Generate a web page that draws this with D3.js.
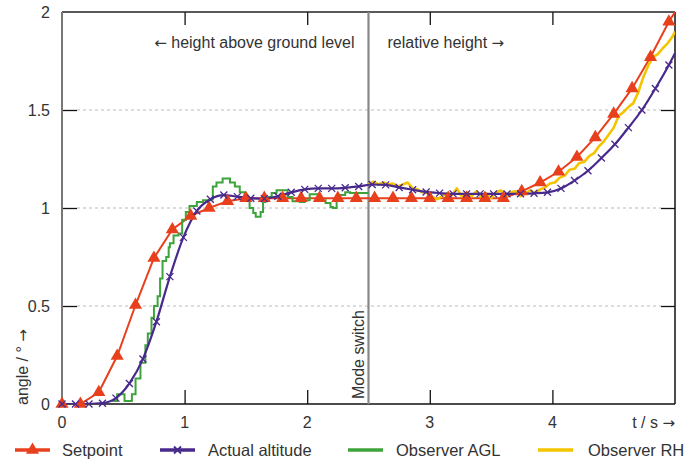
<!DOCTYPE html>
<html>
<head>
<meta charset="utf-8">
<script src="https://cdn.jsdelivr.net/npm/d3@7"></script>
<style>
  body{margin:0;background:#fff;}
  text{font-family:"Liberation Sans",Arial,sans-serif;fill:#333;}
  tspan.arr{font-family:"DejaVu Sans",sans-serif;font-size:15px;}
</style>
</head>
<body>
<script>
// setpoint, one triangle every 0.15 s
let spT = d3.range(0, 34).map(i => +(i*0.15).toFixed(2)).concat([5.0]);
let spV = [0, 0, 0.06, 0.245, 0.505, 0.745, 0.89, 0.96, 1.0, 1.035, 1.05,
  1.05, 1.05, 1.05, 1.05, 1.05, 1.05, 1.05, 1.05, 1.05, 1.05, 1.05, 1.05, 1.05, 1.05,
  1.085, 1.13, 1.185, 1.26, 1.36, 1.48, 1.61, 1.77, 1.95, 2.0];

// actual altitude, one cross every 0.11 s
let aaT = d3.range(0, 46).map(i => +(i*0.11).toFixed(2)).concat([5.0]);
let aaV = [0, 0, 0, 0.004, 0.03, 0.105, 0.23, 0.42, 0.65, 0.85, 0.985, 1.045, 1.066,
  1.058, 1.05, 1.048, 1.06, 1.08, 1.095, 1.1, 1.1, 1.103, 1.11, 1.12, 1.118, 1.105,
  1.093, 1.082, 1.076, 1.072, 1.072, 1.072, 1.072, 1.072, 1.073, 1.075, 1.08, 1.1,
  1.14, 1.19, 1.255, 1.325, 1.41, 1.5, 1.61, 1.73, 1.79];

// observer AGL (step samples)
let aglT = [0.42, 0.45, 0.51, 0.57, 0.60, 0.64, 0.68, 0.70, 0.73, 0.75, 0.78, 0.80, 0.82,
  0.85, 0.87, 0.88, 0.91, 0.95, 0.98, 1.01, 1.04, 1.10, 1.15, 1.21, 1.23, 1.26, 1.31,
  1.37, 1.41, 1.45, 1.49, 1.53, 1.56, 1.58, 1.62, 1.64, 1.66, 1.71, 1.75, 1.80, 1.84,
  1.88, 1.94, 1.98, 2.02, 2.06, 2.10, 2.15, 2.19, 2.21, 2.24, 2.27, 2.31, 2.35, 2.43, 2.5];
let aglV = [0.015, 0.05, 0.015, 0.05, 0.13, 0.21, 0.30, 0.36, 0.44, 0.50, 0.55, 0.64, 0.73,
  0.75, 0.80, 0.82, 0.86, 0.87, 0.94, 0.98, 1.01, 1.03, 1.04, 1.045, 1.11, 1.13, 1.15,
  1.13, 1.11, 1.08, 1.05, 1.0, 0.975, 0.955, 0.98, 1.03, 1.056, 1.076, 1.09, 1.09, 1.056,
  1.035, 1.03, 1.04, 1.07, 1.07, 1.04, 1.025, 1.005, 1.0, 1.04, 1.066, 1.08, 1.077, 1.077, 1.077];

// observer RH, every 0.04 s after the mode switch
let rhT = d3.range(0, 63).map(i => +(2.5 + i*0.04).toFixed(2)).concat([5.0]);
let rhV = [1.12, 1.135, 1.12, 1.13, 1.12, 1.125, 1.11, 1.12, 1.13, 1.10, 1.095, 1.08,
  1.075, 1.055, 1.045, 1.06, 1.075, 1.065, 1.1, 1.06, 1.08, 1.06, 1.085, 1.055, 1.075,
  1.05, 1.08, 1.09, 1.055, 1.08, 1.085, 1.06, 1.075, 1.09, 1.075, 1.095, 1.105, 1.125,
  1.13, 1.155, 1.165, 1.195, 1.2, 1.23, 1.235, 1.265, 1.28, 1.315, 1.34, 1.375, 1.41, 1.47,
  1.49, 1.515, 1.535, 1.59, 1.665, 1.725, 1.77, 1.785, 1.815, 1.84, 1.875, 1.9];

let xTicks = [0, 1, 2, 3, 4];
let yTicks = [0, 0.5, 1, 1.5, 2];
let modeSwitchT = 2.5;

let colors = {sp:"#e8401c", aa:"#48298c", agl:"#3ca43a", rh:"#f5c400"};

let W = 699, H = 464;
let plot = {left:62, right:675, top:12, bottom:404};

let x = d3.scaleLinear().domain([0, 5]).range([plot.left, plot.right]);
let y = d3.scaleLinear().domain([0, 2]).range([plot.bottom, plot.top]);

let svg = d3.select("body").append("svg").attr("width", W).attr("height", H);

svg.append("defs").append("clipPath").attr("id", "clip")
  .append("rect").attr("x", plot.left).attr("y", plot.top - 2)
  .attr("width", plot.right - plot.left).attr("height", plot.bottom - plot.top + 2);

// dashed grid
svg.append("g").selectAll("line").data([0.5, 1, 1.5]).enter().append("line")
  .attr("x1", plot.left + 15).attr("x2", plot.right - 14)
  .attr("y1", d => y(d)).attr("y2", d => y(d))
  .attr("stroke", "#bbb").attr("stroke-width", 1).attr("stroke-dasharray", "3,3");

// axes with inward ticks
let gl = svg.append("g").attr("transform", `translate(${plot.left},0)`)
  .call(d3.axisRight(y).tickValues([0.5, 1, 1.5]).tickSize(15).tickFormat(""));
let gr = svg.append("g").attr("transform", `translate(${plot.right},0)`)
  .call(d3.axisLeft(y).tickValues([0.5, 1, 1.5]).tickSize(14).tickFormat(""));
let gb = svg.append("g").attr("transform", `translate(0,${plot.bottom})`)
  .call(d3.axisTop(x).tickValues([1, 2, 3, 4]).tickSize(14).tickFormat(""));
let gt = svg.append("g").attr("transform", `translate(0,${plot.top})`)
  .call(d3.axisBottom(x).tickValues([1, 2, 3, 4]).tickSize(13).tickFormat(""));
[gl, gr, gb, gt].forEach(g => {
  g.select(".domain").remove();
  g.selectAll(".tick line").attr("stroke", "#111").attr("stroke-width", 1.3);
});

// frame
svg.append("line").attr("x1", plot.left).attr("x2", plot.right)
  .attr("y1", plot.top).attr("y2", plot.top).attr("stroke", "#222").attr("stroke-width", 1.5);
svg.append("line").attr("x1", plot.left).attr("x2", plot.right)
  .attr("y1", plot.bottom).attr("y2", plot.bottom).attr("stroke", "#111").attr("stroke-width", 1.5);
svg.append("line").attr("x1", plot.right).attr("x2", plot.right)
  .attr("y1", plot.top).attr("y2", plot.bottom).attr("stroke", "#111").attr("stroke-width", 1.5);
svg.append("line").attr("x1", plot.left).attr("x2", plot.left)
  .attr("y1", plot.top).attr("y2", plot.bottom).attr("stroke", "#777").attr("stroke-width", 2);

// text with a wide arrow glyph
function arrowText(sel, before, arrow, after){
  if(before) sel.append("tspan").text(before);
  sel.append("tspan").attr("class", "arr").text(arrow);
  if(after) sel.append("tspan").text(after);
  return sel;
}

// tick labels
svg.append("g").selectAll("text").data(yTicks).enter().append("text")
  .attr("x", 50).attr("y", d => y(d)).attr("dy", "0.36em")
  .attr("text-anchor", "end").attr("font-size", 16).text(d => d);
svg.append("g").selectAll("text").data(xTicks).enter().append("text")
  .attr("x", d => x(d)).attr("y", 428)
  .attr("text-anchor", "middle").attr("font-size", 16).text(d => d);
arrowText(svg.append("text").attr("x", plot.right).attr("y", 428)
  .attr("text-anchor", "end").attr("font-size", 16), "t / s ", "\u2192", "");
arrowText(svg.append("text").attr("transform", "translate(28,405) rotate(-90)")
  .attr("font-size", 16), "angle / \u00b0 ", "\u2192", "");

// mode switch
svg.append("line").attr("x1", x(modeSwitchT)).attr("x2", x(modeSwitchT))
  .attr("y1", plot.top).attr("y2", plot.bottom)
  .attr("stroke", "#888").attr("stroke-width", 2.2);
svg.append("text").attr("transform", `translate(${x(modeSwitchT) - 5},399) rotate(-90)`)
  .attr("font-size", 16).text("Mode switch");
arrowText(svg.append("text").attr("x", x(modeSwitchT) - 14).attr("y", 48)
  .attr("text-anchor", "end").attr("font-size", 16), "", "\u2190", " height above ground level");
arrowText(svg.append("text").attr("x", x(modeSwitchT) + 19).attr("y", 48)
  .attr("font-size", 16), "relative height ", "\u2192", "");

// series
let line = d3.line().x(d => x(d[0])).y(d => y(d[1]));
let zip = (a, b) => a.map((t, i) => [t, b[i]]);

let spData = zip(spT, spV);
let aaData = zip(aaT, aaV);
let aglData = zip(aglT, aglV);
let rhData = zip(rhT, rhV);

let gLines = svg.append("g").attr("clip-path", "url(#clip)");

gLines.append("path").datum(spData)
  .attr("d", line).attr("fill", "none").attr("stroke", colors.sp).attr("stroke-width", 2);
gLines.append("path").datum(aglData)
  .attr("d", line.curve(d3.curveStepAfter)).attr("fill", "none")
  .attr("stroke", colors.agl).attr("stroke-width", 2);
gLines.append("path").datum(rhData)
  .attr("d", line.curve(d3.curveLinear)).attr("fill", "none")
  .attr("stroke", colors.rh).attr("stroke-width", 2.6).attr("stroke-linejoin", "round");
gLines.append("path").datum(aaData)
  .attr("d", line.curve(d3.curveMonotoneX)).attr("fill", "none")
  .attr("stroke", colors.aa).attr("stroke-width", 2.2);
line.curve(d3.curveLinear);

let triangle = d3.symbol().type(d3.symbolTriangle).size(75);
let cross = "M-3.5,-3.5L3.5,3.5M-3.5,3.5L3.5,-3.5";

svg.append("g").selectAll("path").data(spData.slice(0, 34)).enter().append("path")
  .attr("d", triangle).attr("fill", colors.sp)
  .attr("transform", d => `translate(${x(d[0])},${y(d[1])})`);
svg.append("g").selectAll("path").data(aaData.slice(0, 46)).enter().append("path")
  .attr("d", cross).attr("fill", "none").attr("stroke", colors.aa).attr("stroke-width", 1.3)
  .attr("transform", d => `translate(${x(d[0])},${y(d[1])})`);

// legend
let legend = [
  {name:"Setpoint", color:colors.sp, x:15, mark:"tri"},
  {name:"Actual altitude", color:colors.aa, x:160, mark:"x"},
  {name:"Observer AGL", color:colors.agl, x:348, mark:""},
  {name:"Observer RH", color:colors.rh, x:538, mark:""}
];
let ly = 450;
let lg = svg.append("g").selectAll("g").data(legend).enter().append("g")
  .attr("transform", d => `translate(${d.x},${ly})`);
lg.append("line").attr("x1", 0).attr("x2", 35).attr("y1", 0).attr("y2", 0)
  .attr("stroke", d => d.color).attr("stroke-width", 3.5);
lg.filter(d => d.mark == "tri").append("path").attr("d", triangle)
  .attr("fill", d => d.color).attr("transform", "translate(17.5,0)");
lg.filter(d => d.mark == "x").append("path").attr("d", cross)
  .attr("fill", "none").attr("stroke", d => d.color).attr("stroke-width", 1.8)
  .attr("transform", "translate(17.5,0)");
lg.append("text").attr("x", d => d.name == "Setpoint" ? 47 : (d.name == "Observer RH" ? 50 : 48))
  .attr("y", 0).attr("dy", "0.36em").attr("font-size", 16.5).text(d => d.name);
</script>
</body>
</html>
